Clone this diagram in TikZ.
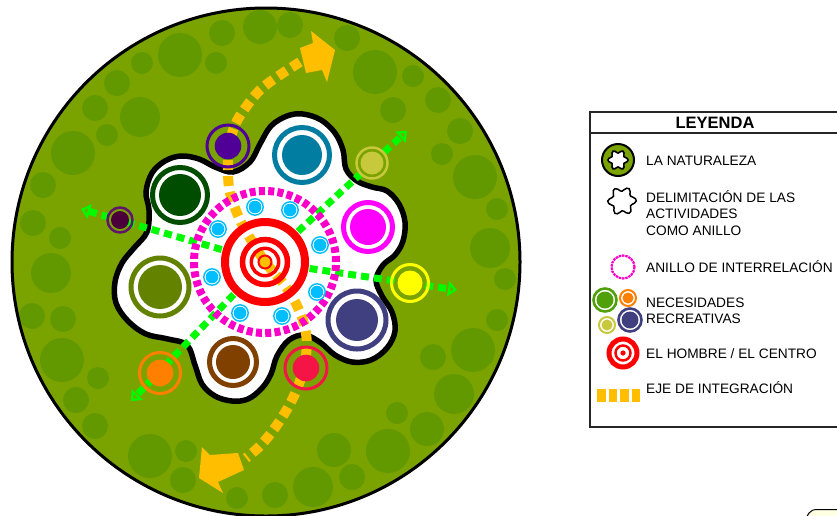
\documentclass[tikz,border=0pt]{standalone}
\usepackage{fontspec}
\setmainfont{Liberation Sans}
\usetikzlibrary{arrows.meta,calc}
\definecolor{nat}{RGB}{122,163,0}
\definecolor{natdark}{RGB}{99,153,0}
\definecolor{axiscol}{RGB}{255,191,0}
\definecolor{limecol}{RGB}{0,250,0}
\definecolor{pinkcol}{RGB}{250,0,200}
\definecolor{cyancol}{RGB}{0,190,255}
\definecolor{dgreencol}{RGB}{0,77,0}
\definecolor{tealcol}{RGB}{0,125,160}
\definecolor{magcol}{RGB}{255,0,255}
\definecolor{navycol}{RGB}{64,64,128}
\definecolor{browncol}{RGB}{128,64,0}
\definecolor{olivecol}{RGB}{98,130,0}
\definecolor{purplecol}{RGB}{80,0,150}
\definecolor{maroondisk}{RGB}{75,0,60}
\definecolor{maroonring}{RGB}{95,20,110}
\definecolor{ygcol}{RGB}{200,200,60}
\definecolor{yellowcol}{RGB}{255,255,0}
\definecolor{crimsoncol}{RGB}{245,20,70}
\definecolor{orangecol}{RGB}{255,128,0}
\definecolor{leggreen}{RGB}{80,160,10}
\definecolor{paleyellow}{RGB}{255,255,225}
\begin{document}
\begin{tikzpicture}[x=1pt,y=-1pt,
  axisline/.style={axiscol, line width=10pt, dash pattern=on 10pt off 6pt},
  greenarrow/.style={limecol, line width=7pt, dash pattern=on 8pt off 5pt,
     -{Triangle[open,length=9pt,width=15pt,line width=2.6pt]}},
  legtext/.style={anchor=base west, inner sep=0pt, font=\fontsize{13.7}{16}\selectfont},
  headtext/.style={inner sep=0pt, font=\bfseries\fontsize{16.5}{18}\selectfont}
]
\useasboundingbox (0,0) rectangle (837,515);

% ---------- nature disc ----------
\coordinate (N) at (266,262);
\fill[nat] (N) circle[radius=254pt];
\begin{scope}
\clip (N) circle[radius=254pt];
\foreach \x/\y/\r in {180/55/22,222/33/13,260/27/17,142/63/11,216/63/11,117/83/13,140/117/20,
  95/108/13,107/135/11,73/153/22,43/185/13,33/223/13,60/238/11,51/273/20,32/316/13,63/319/13,
  62/360/22,98/378/11,76/400/13,95/426/13,150/456/22,186/451/11,183/480/13,237/498/11,275/495/13,
  313/487/20,352/477/13,334/450/17,388/451/22,427/429/17,397/413/11,454/394/20,433/357/13,
  473/350/22,497/320/11,505/279/11,490/248/20,497/209/11,475/177/22,442/154/11,460/131/13,
  438/100/13,393/110/13,413/76/11,375/72/22,347/38/13,290/25/13}
  \fill[natdark] (\x,\y) circle[radius=\r pt];
\end{scope}
\draw[line width=3pt] (N) circle[radius=254pt];

% ---------- activity ring (blob) ----------
\draw[line width=5.5pt, fill=white] plot[smooth cycle, tension=0.6] coordinates {
 (303,114) (321,120) (335,133) (343,150) (346,169) (357,181) (372,187) (387,191) (399,204)
 (405,222) (403,241) (395,255) (383,265) (376,280) (382,296) (392,312) (395,331) (387,348)
 (371,360) (352,362) (335,355) (321,343) (305,335) (289,340) (277,356) (271,374) (262,388)
 (248,399) (232,401) (215,396) (202,384) (195,365) (187,345) (168,339) (146,334) (128,321)
 (116,303) (115,282) (122,263) (134,248) (147,232) (149,210) (146,192) (152,173) (165,161)
 (181,156) (199,159) (215,167) (233,172) (250,162) (260,144) (271,126) (287,116)};

% ---------- axis of integration ----------
\draw[axisline] plot[smooth, tension=0.6] coordinates {
 (300,62) (277,77) (260,90) (246,107) (235,125) (229,147) (228,170) (230,193) (240,220)
 (253,243) (266,263) (286,287) (299,310) (306,333) (306,356) (301,378) (292,400) (279,422)
 (262,444) (246,458)};
\fill[axiscol] (300,48) -- (313,43) -- (311,31) -- (335,50) -- (327,82) -- (322,70) -- (306,73) -- cycle;
\fill[axiscol] (202,447) -- (210,455) -- (238,453) -- (244,470) -- (218,482) -- (223,493) -- (199,478) -- cycle;

% ---------- interrelation arrows ----------
\coordinate (C) at (265,262);
\coordinate (gL) at (81,209);
\coordinate (gR) at (457,290);
\coordinate (gUR) at (407,131);
\coordinate (gDL) at (131,401);
\draw[greenarrow] ($(C)!45pt!(gL)$) -- (gL);
\draw[greenarrow] ($(C)!45pt!(gR)$) -- (gR);
\draw[greenarrow] ($(C)!45pt!(gUR)$) -- (gUR);
\draw[greenarrow] ($(C)!45pt!(gDL)$) -- (gDL);

% ---------- interrelation ring ----------
\draw[pinkcol, line width=8pt, dash pattern=on 6pt off 3.3pt] (C) circle[radius=71pt];
\foreach \x/\y in {255/207,290/210,218/229,320/245,212/277,317/292,240/313,282/316}{
  \fill[cyancol] (\x,\y) circle[radius=6.3pt];
  \draw[cyancol, line width=1.4pt] (\x,\y) circle[radius=8.2pt];
}

% ---------- man / centre ----------
\draw[red, line width=8pt] (C) circle[radius=40pt];
\draw[red, line width=5.5pt] (C) circle[radius=22.5pt];
\draw[red, line width=3.5pt] (C) circle[radius=13.7pt];
\draw[red, fill=axiscol, line width=2pt] (C) circle[radius=6.5pt];

% ---------- recreational needs (lobes) ----------
\foreach \x/\y/\d/\rr/\c in {180/195/21/27.5/dgreencol, 302/155/20/27.5/tealcol,
   368/227/18/24.5/magcol, 357/320/21/29/navycol, 233/362/17/23.5/browncol,
   160/287/22/29/olivecol}{
  \fill[\c] (\x,\y) circle[radius=\d pt];
  \draw[\c, line width=5pt] (\x,\y) circle[radius=\rr pt];
}
% outer needs
\foreach \x/\y/\d/\rr/\w/\cd/\cr in {228/146/13.3/21/3/purplecol/purplecol,
   120/220/9/12.5/2.5/maroondisk/maroonring, 372/163/11.5/15.5/2.5/ygcol/ygcol,
   410/283/12.5/18.5/3/yellowcol/yellowcol, 306/368/13.3/21/3/crimsoncol/crimsoncol,
   160/373/13.3/20.5/3/orangecol/orangecol}{
  \fill[\cd] (\x,\y) circle[radius=\d pt];
  \draw[\cr, line width=\w pt] (\x,\y) circle[radius=\rr pt];
}

% ---------- legend ----------
\draw[line width=1.2pt, black!85] (590,112) rectangle (845,427);
\draw[line width=1.2pt, black!85] (590,133) -- (845,133);
\node[headtext] (title) at (715,123) {LEYENDA};

% 1 nature
\draw[fill=nat, line width=2pt] (618,160) circle[radius=16pt];
\draw[fill=white, line width=1.6pt] plot[smooth cycle, domain=0:350, samples=36, variable=\t]
  ({618+(8.5+1.6*cos(6*\t))*cos(\t)},{160+(8.5+1.6*cos(6*\t))*sin(\t)});
\node[legtext] (l1) at (646,165) {LA NATURALEZA};
% 2 delimitation
\draw[line width=1.5pt] plot[smooth cycle, domain=0:350, samples=36, variable=\t]
  ({622+(12+2.3*cos(6*\t+15))*cos(\t)},{201+(12+2.3*cos(6*\t+15))*sin(\t)});
\node[legtext] (l2a) at (646,202) {DELIMITACIÓN DE LAS};
\node[legtext] (l2b) at (646,218) {ACTIVIDADES};
\node[legtext] (l2c) at (646,235) {COMO ANILLO};
% 3 interrelation ring
\draw[pinkcol, line width=2.2pt, dash pattern=on 2.5pt off 0.8pt] (623,267) circle[radius=11.5pt];
\node[legtext] (l3) at (646,272) {ANILLO DE INTERRELACIÓN};
% 4 needs
\fill[leggreen] (605,300) circle[radius=8.5pt];
\draw[leggreen, line width=2.6pt] (605,300) circle[radius=11.5pt];
\fill[orangecol] (628,298) circle[radius=5.5pt];
\draw[orangecol, line width=2pt] (628,298) circle[radius=8pt];
\fill[ygcol] (607,325) circle[radius=5.5pt];
\draw[ygcol, line width=2pt] (607,325) circle[radius=8pt];
\fill[navycol] (630,320) circle[radius=8.5pt];
\draw[navycol, line width=2.6pt] (630,320) circle[radius=11.5pt];
\node[legtext] (l4a) at (646,307) {NECESIDADES};
\node[legtext] (l4b) at (646,323) {RECREATIVAS};
% 5 centre
\draw[red, line width=5pt] (623,353) circle[radius=14pt];
\draw[red, line width=2.5pt] (623,353) circle[radius=7.5pt];
\fill[red] (623,353) circle[radius=2.6pt];
\node[legtext] (l5) at (646,358) {EL HOMBRE / EL CENTRO};
% 6 axis
\foreach \x in {597,608.5,620,631.5}
  \fill[axiscol] (\x,388.5) rectangle ++(8.5,13);
\node[legtext] (l6) at (646,393) {EJE DE INTEGRACIÓN};

% bottom-right sliver
\draw[fill=paleyellow, line width=1pt] (806,518) -- (809,513) .. controls (811,510.5) and (813,509.5) .. (818,509.5) -- (842,509.5) -- (842,518) -- cycle;
\end{tikzpicture}
\end{document}
